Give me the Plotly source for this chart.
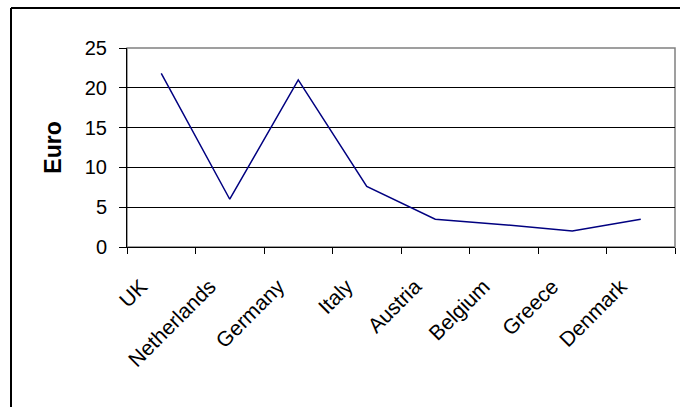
import plotly.graph_objects as go

countries = ["UK", "Netherlands", "Germany", "Italy", "Austria", "Belgium", "Greece", "Denmark"]
euro = [21.8, 6.0, 21.0, 7.6, 3.5, 2.8, 2.0, 3.5]
y_ticks = [0, 5, 10, 15, 20, 25]

W, H = 680, 407
ML, MR, MT, MB = 127, 5, 48, 160
pw = W - ML - MR
ph = H - MT - MB

def xfrac(px):
    return (px - ML) / pw

def yfrac(py):
    return (H - MB - py) / ph

font = "Arial, Liberation Sans, sans-serif"

fig = go.Figure()
fig.add_trace(go.Scatter(
    x=countries, y=euro, mode="lines",
    line=dict(color="#000080", width=1.5),
    hoverinfo="skip", showlegend=False,
))

fig.update_layout(
    width=W, height=H,
    margin=dict(l=ML, r=MR, t=MT, b=MB),
    paper_bgcolor="white", plot_bgcolor="white",
    font=dict(family=font, color="black"),
    xaxis=dict(
        type="category", categoryorder="array", categoryarray=countries,
        range=[-0.5, 7.5],
        showgrid=False, zeroline=False,
        showline=True, linecolor="black", linewidth=1,
        ticks="outside", ticklen=6, tickcolor="black",
        tickson="boundaries",
        tickangle=-45, tickfont=dict(size=21, family=font, color="black"),
        ticklabelstandoff=18, ticklabelshift=-20,
    ),
    yaxis=dict(
        range=[0, 25], tickvals=y_ticks,
        showgrid=True, gridcolor="black", gridwidth=1,
        zeroline=False,
        showline=True, linecolor="black", linewidth=1,
        ticks="outside", ticklen=7, tickcolor="black",
        ticklabelstandoff=8,
        tickfont=dict(size=20, family=font, color="black"),
        title=dict(text="<b>Euro</b>", font=dict(size=23, family=font, color="black"), standoff=16),
    ),
    shapes=[
        dict(type="rect", xref="x domain", yref="y domain", x0=0, x1=1, y0=0, y1=1,
             line=dict(color="#808080", width=1.5), layer="below"),
        dict(type="line", xref="paper", yref="paper", x0=xfrac(11), x1=xfrac(11),
             y0=yfrac(8), y1=-1.0, line=dict(color="black", width=2)),
        dict(type="line", xref="paper", yref="paper", x0=xfrac(11), x1=1.2,
             y0=yfrac(8), y1=yfrac(8), line=dict(color="black", width=2)),
    ],
)

fig.write_html("out.html")
